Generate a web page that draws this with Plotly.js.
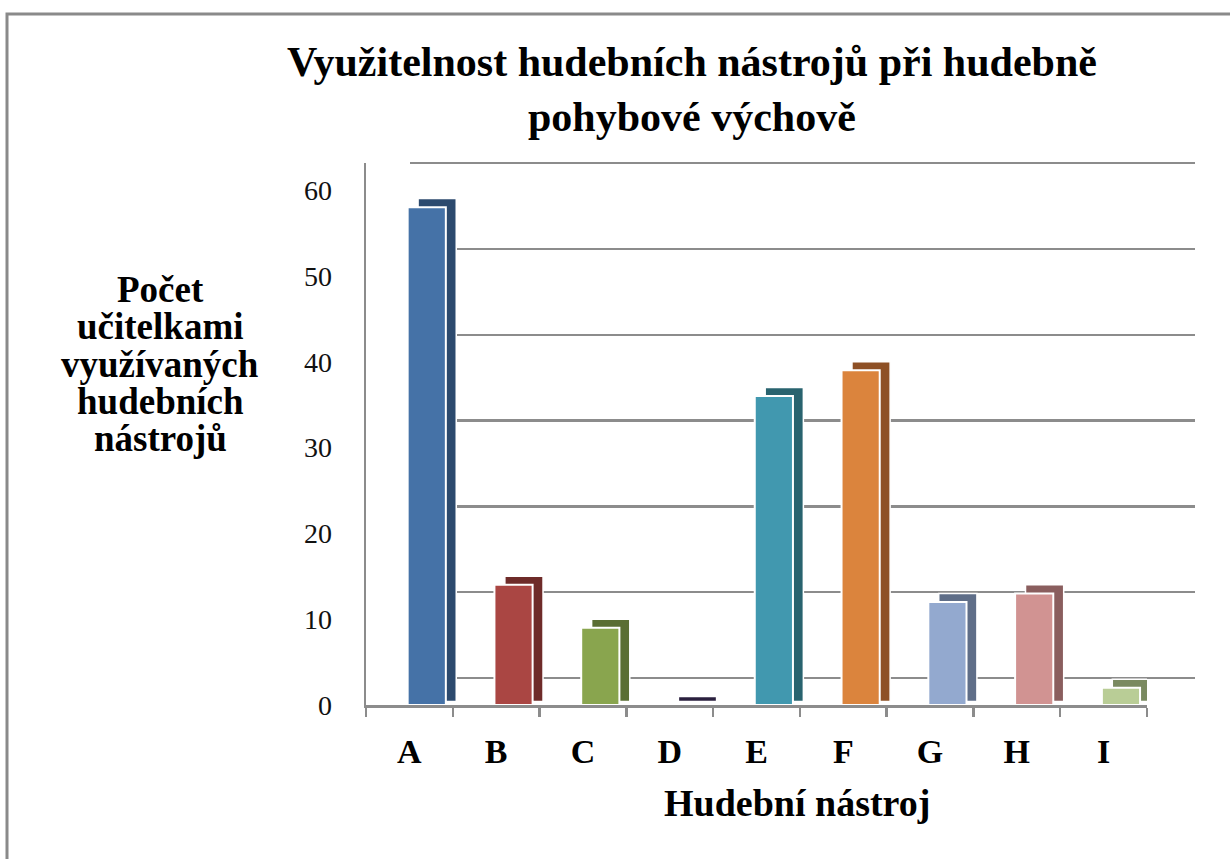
<!DOCTYPE html>
<html>
<head>
<meta charset="utf-8">
<script src="https://cdn.plot.ly/plotly-3.0.1.min.js"></script>
<style>html,body{margin:0;padding:0;background:#fff}#chart{width:1230px;height:859px}</style>
</head>
<body>
<div id="chart"></div>
<script>
// ---- data ----
const categories = ['A', 'B', 'C', 'D', 'E', 'F', 'G', 'H', 'I'];
const values = [58, 14, 9, 0, 36, 39, 12, 13, 2];
const frontColors = ['#4572A7', '#AA4643', '#89A54E', '#3E2F5B', '#4198AF', '#DB843D', '#93A9CF', '#D19392', '#B9CD96'];
const sideColors = ['#2C4A6E', '#6E2B29', '#5A6E33', '#2A1F3E', '#29636F', '#8E5025', '#5F6E88', '#8A5E5E', '#7A8A60'];
const yTicks = [0, 10, 20, 30, 40, 50, 60];
const titleText = 'Využitelnost hudebních nástrojů při hudebně<br>pohybové výchově';
const yTitleLines = ['Počet', 'učitelkami', 'využívaných', 'hudebních', 'nástrojů'];
const xTitleText = 'Hudební nástroj';

const W = 1230, H = 859;
const px = v => v / W;
const py = v => 1 - v / H;
const serif = 'Liberation Serif, Times New Roman, serif';
const grey = '#8c8c8c';

// pseudo-3D depth face: slightly raised and shifted right behind the front face
const depthBase = values.map(() => 0.4);
const depthHeight = values.map(v => v + 0.6);

const traces = [
  { // dummy trace so the back-wall subplot is drawn
    type: 'scatter', mode: 'markers', x: [0.5], y: [0],
    xaxis: 'x', yaxis: 'y', marker: { opacity: 0 }, hoverinfo: 'skip', showlegend: false
  },
  { // side/top face (darker)
    type: 'bar', x: categories, y: depthHeight, base: depthBase,
    xaxis: 'x2', yaxis: 'y2',
    offset: 0.1, width: 0.44,
    marker: { color: sideColors, line: { color: '#ffffff', width: 1.5 } },
    hoverinfo: 'skip', showlegend: false
  },
  { // front face
    type: 'bar', x: categories, y: values,
    xaxis: 'x2', yaxis: 'y2',
    offset: -0.02, width: 0.44,
    marker: { color: frontColors, line: { color: '#ffffff', width: 2 } },
    hoverinfo: 'skip', showlegend: false
  }
];

const annotations = [];
annotations.push({
  text: titleText, xref: 'paper', yref: 'paper', x: px(692), y: py(89),
  xanchor: 'center', yanchor: 'middle', showarrow: false, align: 'center',
  font: { family: serif, size: 42, color: '#000000', weight: 'bold' }
});
const yTitleY = [289, 327, 364, 401, 438];
yTitleLines.forEach((t, i) => annotations.push({
  text: t, xref: 'paper', yref: 'paper', x: px(160), y: py(yTitleY[i]),
  xanchor: 'center', yanchor: 'middle', showarrow: false,
  font: { family: serif, size: 37, color: '#000000', weight: 'bold' }
}));
annotations.push({
  text: xTitleText, xref: 'paper', yref: 'paper', x: px(797), y: py(803),
  xanchor: 'center', yanchor: 'middle', showarrow: false,
  font: { family: serif, size: 38, color: '#000000', weight: 'bold' }
});

const layout = {
  width: W, height: H,
  margin: { l: 0, r: 0, t: 0, b: 0 },
  paper_bgcolor: '#ffffff',
  plot_bgcolor: 'rgba(0,0,0,0)',
  barmode: 'overlay',
  showlegend: false,
  // back wall (gridlines)
  xaxis: {
    domain: [px(410), px(1195)], anchor: 'y',
    showgrid: false, showticklabels: false, zeroline: false, showline: false, ticks: '',
    range: [0, 1], fixedrange: true
  },
  yaxis: {
    domain: [py(705), py(161)], anchor: 'x',
    range: [-3.15, 60.25], tickvals: yTicks,
    showgrid: true, gridcolor: grey, gridwidth: 2.5,
    showticklabels: false, zeroline: false, showline: false, ticks: '', fixedrange: true
  },
  // front (bars, axes, labels)
  xaxis2: {
    domain: [px(366), px(1147)], anchor: 'y2',
    type: 'category', range: [-0.5, 8.5],
    showline: true, linecolor: grey, linewidth: 2.5,
    ticks: 'outside', tickson: 'boundaries', ticklen: 9, tickwidth: 2.5, tickcolor: grey,
    ticklabelstandoff: 15,
    tickfont: { family: serif, size: 34, color: '#000000', weight: 'bold' },
    showgrid: false, zeroline: false, fixedrange: true
  },
  yaxis2: {
    domain: [py(705), py(163)], anchor: 'x2',
    range: [0, 63.15], tickvals: yTicks,
    showline: true, linecolor: grey, linewidth: 2.5,
    ticks: '', ticklabelstandoff: 26,
    tickfont: { family: serif, size: 28, color: '#111111' },
    showgrid: false, zeroline: false, fixedrange: true
  },
  annotations: annotations,
  shapes: [
    {
      type: 'path', xref: 'paper', yref: 'paper', layer: 'above',
      path: 'M ' + px(7) + ' ' + py(870) + ' L ' + px(7) + ' ' + py(14) + ' L ' + px(1240) + ' ' + py(14),
      line: { color: '#8a8a8a', width: 3 }
    }
  ]
};

Plotly.newPlot('chart', traces, layout, { staticPlot: true, displayModeBar: false });
</script>
</body>
</html>
